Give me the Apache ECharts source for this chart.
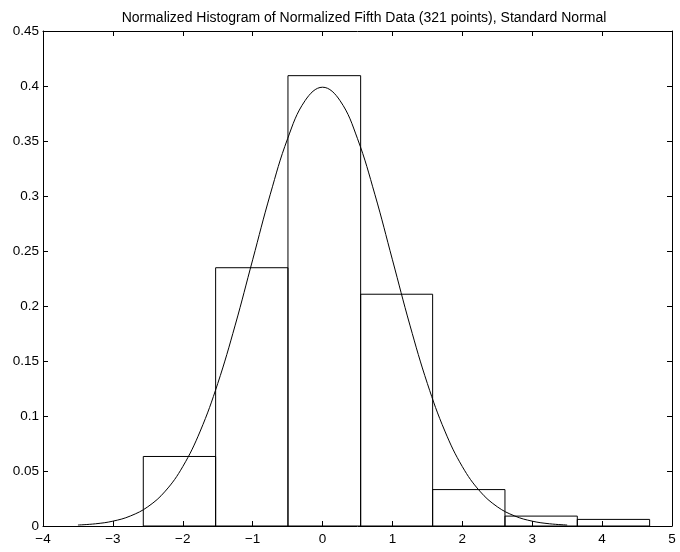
<!DOCTYPE html>
<html>
<head>
<meta charset="utf-8">
<script src="https://cdn.jsdelivr.net/npm/echarts@6/dist/echarts.min.js"></script>
<style>html,body{margin:0;padding:0;background:#fff}#c{width:680px;height:552px}</style>
</head>
<body>
<div id="c"></div>
<script>
var titleText = 'Normalized Histogram of Normalized Fifth Data (321 points), Standard Normal';
var binLeft  = [-2.565, -1.530, -0.495, 0.545, 1.575, 2.610, 3.645];
var binRight = [-1.530, -0.495, 0.545, 1.575, 2.610, 3.645, 4.680];
var binDensity = [0.0632, 0.2348, 0.4094, 0.2107, 0.0331, 0.0090, 0.0060];
var curveX = [-3.5,-3.25,-3,-2.75,-2.5,-2.25,-2,-1.75,-1.5,-1.25,-1,-0.75,-0.5,-0.25,0,0.25,0.5,0.75,1,1.25,1.5,1.75,2,2.25,2.5,2.75,3,3.25,3.5];
var curveY = [0.0009,0.0020,0.0044,0.0091,0.0175,0.0317,0.0540,0.0863,0.1295,0.1826,0.2420,0.3011,0.3521,0.3867,0.3989,0.3867,0.3521,0.3011,0.2420,0.1826,0.1295,0.0863,0.0540,0.0317,0.0175,0.0091,0.0044,0.0020,0.0009];
var xMin = -4, xMax = 5, xStep = 1;
var yMin = 0, yMax = 0.45, yStep = 0.05;

var barData = binLeft.map(function(l, i){ return [l, binRight[i], binDensity[i]]; });
var lineData = curveX.map(function(x, i){ return [x, curveY[i]]; });

var font = 'Liberation Sans, Arial, Helvetica, sans-serif';
var axisCommon = {
  axisLine: {show: true, onZero: false, lineStyle: {color: '#000', width: 1}},
  axisTick: {show: true, inside: true, length: 5, lineStyle: {color: '#000', width: 1}},
  splitLine: {show: false}
};
var chart = echarts.init(document.getElementById('c'));
chart.setOption({
  animation: false,
  backgroundColor: '#fff',
  title: {
    text: titleText, left: 359, top: 6, textAlign: 'center',
    textStyle: {fontFamily: font, fontSize: 14, fontWeight: 'normal', color: '#000'}
  },
  grid: {left: 43, right: 8, top: 31, bottom: 26},
  xAxis: [
    Object.assign({type: 'value', min: xMin, max: xMax, interval: xStep, position: 'bottom',
      axisLabel: {color: '#000', fontFamily: font, fontSize: 13.5, margin: 6,
        formatter: function(v){ return String(v).replace('-', '\u2212'); }}}, axisCommon),
    Object.assign({type: 'value', min: xMin, max: xMax, interval: xStep, position: 'top',
      axisLabel: {show: false}}, axisCommon)
  ],
  yAxis: [
    Object.assign({type: 'value', min: yMin, max: yMax, interval: yStep, position: 'left',
      axisLabel: {color: '#000', fontFamily: font, fontSize: 13.5, margin: 4,
        formatter: function(v){ return String(parseFloat(v.toFixed(2))); }}}, axisCommon),
    Object.assign({type: 'value', min: yMin, max: yMax, interval: yStep, position: 'right',
      axisLabel: {show: false}}, axisCommon)
  ],
  series: [
    {
      type: 'custom',
      xAxisIndex: 0, yAxisIndex: 0,
      data: barData,
      encode: {x: [0, 1], y: 2},
      clip: true,
      renderItem: function(params, api){
        var p0 = api.coord([api.value(0), api.value(2)]);
        var p1 = api.coord([api.value(1), 0]);
        return {
          type: 'rect',
          shape: {x: p0[0], y: p0[1], width: p1[0] - p0[0], height: p1[1] - p0[1]},
          style: {fill: 'none', stroke: '#000', lineWidth: 1}
        };
      },
      z: 2
    },
    {
      type: 'line',
      xAxisIndex: 0, yAxisIndex: 0,
      data: lineData,
      smooth: 0.4,
      showSymbol: false,
      lineStyle: {color: '#000', width: 1},
      z: 3
    }
  ]
});
</script>
</body>
</html>
